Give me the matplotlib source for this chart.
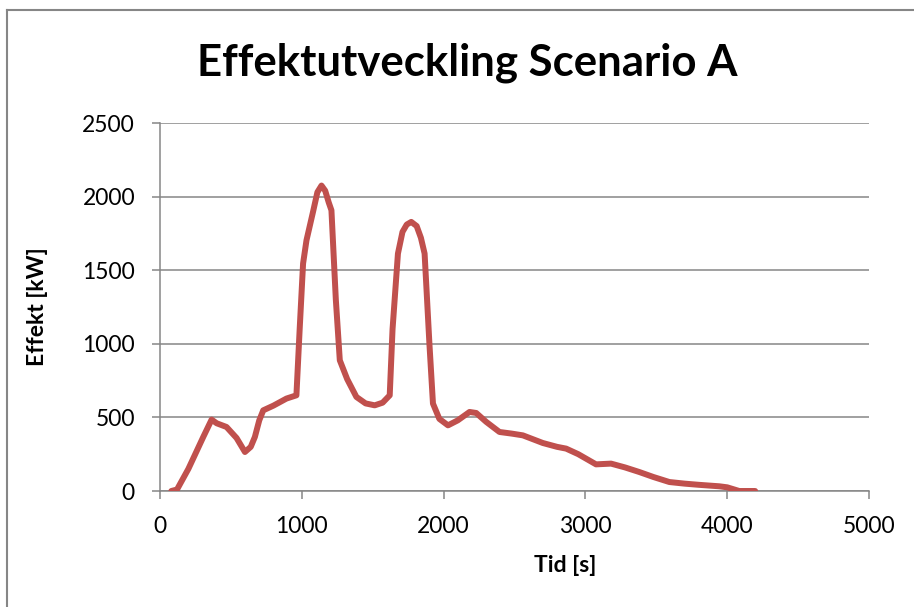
import matplotlib
matplotlib.use('Agg')
import matplotlib.pyplot as plt
from matplotlib.lines import Line2D

# ----------------------------------------------------------------
# Data

tid = [80, 120, 200, 305, 364, 400, 469, 540, 599, 640, 669, 700, 728, 800,
       892, 962, 985, 1009, 1033, 1080, 1110, 1139, 1165, 1190, 1209, 1240,
       1268, 1320, 1385, 1450, 1514, 1570, 1620, 1640, 1678, 1710, 1740, 1772,
       1810, 1840, 1866, 1900, 1925, 1970, 2031, 2100, 2183, 2230, 2300, 2394,
       2480, 2559, 2700, 2800, 2864, 2950, 3075, 3181, 3280, 3380, 3480, 3592,
       3700, 3800, 3944, 4000, 4085, 4197]
effekt = [0, 10, 150, 367, 485, 460, 435, 360, 265, 300, 367, 480, 548, 580,
          628, 650, 1100, 1545, 1703, 1900, 2030, 2075, 2040, 1960, 1907, 1300,
          888, 760, 639, 595, 582, 600, 650, 1100, 1613, 1760, 1810, 1828,
          1800, 1720, 1613, 1000, 594, 490, 446, 480, 537, 530, 470, 401,
          390, 378, 326, 300, 288, 250, 181, 186, 160, 129, 95, 61,
          50, 42, 32, 25, 0, 0]

titel = 'Effektutveckling Scenario A'
xlabel = 'Tid [s]'
ylabel = 'Effekt [kW]'
xticks = [0, 1000, 2000, 3000, 4000, 5000]
yticks = [0, 500, 1000, 1500, 2000, 2500]

# ----------------------------------------------------------------
# Plot

plt.rcParams['font.family'] = ['Lato', 'DejaVu Sans']
grey = '#868686'

fig = plt.figure(figsize=(9.14, 6.07), dpi=100)
fig.set_facecolor('white')

# outer chart frame (only left and top visible)
fig.add_artist(Line2D([7/914, 7/914], [0, 1-10/607], color=grey, lw=1.5,
                      transform=fig.transFigure))
fig.add_artist(Line2D([7/914, 1], [1-10/607, 1-10/607], color=grey, lw=1.5,
                      transform=fig.transFigure))

ax = fig.add_axes([160/914, 116/607, 709/914, 368/607])
ax.plot(tid, effekt, color='#C0504D', lw=4.3, solid_capstyle='round',
        solid_joinstyle='round', zorder=3)

ax.set_xlim(0, 5000)
ax.set_ylim(0, 2500)
ax.set_xticks(xticks)
ax.set_yticks(yticks)
ax.yaxis.grid(True, color=grey, lw=1.1)
ax.set_axisbelow(True)
for s in ['top', 'right']:
    ax.spines[s].set_visible(False)
for s in ['left', 'bottom']:
    ax.spines[s].set_color(grey)
    ax.spines[s].set_linewidth(1.1)
ax.tick_params(axis='both', direction='out', length=6, width=1.1,
               color=grey, labelsize=16.5)
ax.tick_params(axis='y', pad=12)
ax.tick_params(axis='x', pad=12)

ax.set_xlabel(xlabel, fontsize=16.5, fontweight='bold')
ax.set_ylabel(ylabel, fontsize=16.5, fontweight='bold')
ax.xaxis.set_label_coords(405/709, -74/368)
ax.yaxis.set_label_coords(-122/709, 184/368)
ax.xaxis.label.set_va('center')
ax.yaxis.label.set_va('center')

fig.text(467/914, 1-63/607, titel, ha='center', va='center',
         fontsize=31.5, fontweight='bold')

fig.savefig('out.png', dpi=100)
